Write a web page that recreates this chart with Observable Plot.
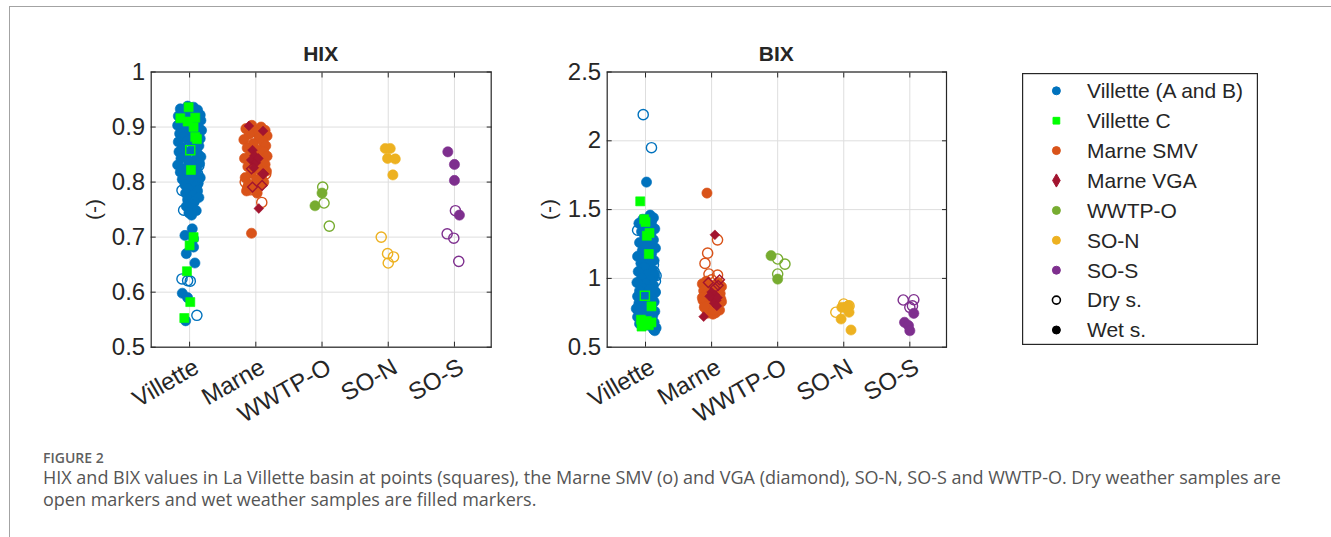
<!DOCTYPE html>
<html><head><meta charset="utf-8">
<script src="https://cdn.jsdelivr.net/npm/d3@7"></script>
<script src="https://cdn.jsdelivr.net/npm/@observablehq/plot@0.6"></script>
<style>
body{margin:0;background:#fff;}
#root{position:relative;width:1331px;height:537px;overflow:hidden;font-family:"Liberation Sans",Arial,Helvetica,sans-serif;color:#262626;}
.abs{position:absolute;}
.frameTop{left:9px;top:6px;right:0;height:0;border-top:1.5px solid #a3a3a3;}
.frameLeft{left:9px;top:6px;bottom:0;width:0;border-left:1.5px solid #a3a3a3;}
.title{font-weight:bold;font-size:21px;text-align:center;width:200px;line-height:21px;}
.ylab{font-size:21px;line-height:21px;width:60px;text-align:center;transform:rotate(-90deg);}
.figno{font-family:"Open Sans",sans-serif;font-size:14px;font-weight:600;color:#5f5f5f;}
.caption{width:1256px;font-family:"Open Sans",sans-serif;font-size:18px;line-height:22px;color:#555;}
</style></head><body><div id="root">
<div class="abs frameTop"></div><div class="abs frameLeft"></div>
</div>
<script>
// ---------- categories, ticks, series ----------
const categories = ["Villette", "Marne", "WWTP-O", "SO-N", "SO-S"];
const categoryPositions = [1, 2, 3, 4, 5];
const hixTicks = [0.5, 0.6, 0.7, 0.8, 0.9, 1];
const bixTicks = [0.5, 1, 1.5, 2, 2.5];
const seriesNames = ["Villette (A and B)", "Villette C", "Marne SMV", "Marne VGA", "WWTP-O", "SO-N", "SO-S"];
const seriesCategory = [1, 1, 2, 2, 3, 4, 5];
const stateNames = ["Dry s.", "Wet s."];

// each entry: [jitter offset from category, value]
// ---------- HIX ----------
const hixVilletteABWet = [[-0.03,0.938],[0.06,0.936],[-0.14,0.933],[0.12,0.931],[-0.08,0.928],[0.02,0.925],[0.16,0.922],[-0.17,0.920],[0.09,0.917],[-0.04,0.914],[0.17,0.912],[-0.12,0.909],[0.05,0.906],[-0.18,0.903],[0.13,0.900],[-0.06,0.897],[0.18,0.894],[0.01,0.891],[-0.15,0.888],[0.10,0.885],[-0.09,0.882],[0.16,0.879],[-0.02,0.876],[-0.17,0.873],[0.07,0.870],[0.14,0.866],[-0.11,0.862],[0.03,0.858],[-0.16,0.855],[0.12,0.852],[-0.05,0.849],[0.17,0.846],[-0.13,0.843],[0.08,0.840],[-0.01,0.837],[0.15,0.834],[-0.18,0.831],[0.04,0.828],[-0.09,0.825],[0.11,0.822],[-0.14,0.818],[0.06,0.815],[-0.04,0.812],[0.16,0.808],[-0.11,0.805],[0.02,0.802],[0.13,0.798],[-0.07,0.795],[0.09,0.792],[-0.02,0.788],[0.12,0.784],[-0.06,0.780],[0.05,0.776],[0.14,0.772],[-0.03,0.768],[0.07,0.764],[0.01,0.760],[-0.05,0.756],[0.04,0.752],[0.10,0.748],[-0.01,0.744],[0.03,0.740],[0.04,0.715],[-0.07,0.703],[0.06,0.697],[0.06,0.682],[-0.05,0.670],[0.08,0.653],[-0.11,0.598],[-0.03,0.590],[-0.06,0.548]];
const hixVilletteABDry = [[-0.115,0.785],[-0.09,0.749],[0.11,0.795],[0.14,0.830],[0.12,0.815],[-0.115,0.624],[-0.03,0.621],[0.01,0.620],[0.11,0.558]];
const hixVilletteCWet = [[-0.015,0.936],[-0.14,0.916],[-0.03,0.910],[0.085,0.917],[0.06,0.900],[0.085,0.882],[0.11,0.878],[0.02,0.822],[0.06,0.700],[0.0,0.685],[-0.04,0.638],[0.01,0.582],[-0.08,0.553]];
const hixVilletteCDry = [[0.01,0.858]];
const hixMarneSMVWet = [[-0.06,0.903],[0.08,0.900],[-0.15,0.897],[0.14,0.894],[0.01,0.890],[-0.10,0.887],[0.17,0.884],[0.05,0.880],[-0.18,0.877],[0.11,0.873],[-0.04,0.870],[0.15,0.866],[-0.13,0.862],[0.03,0.858],[0.12,0.855],[-0.08,0.851],[0.17,0.847],[-0.17,0.843],[0.07,0.840],[-0.02,0.836],[0.14,0.832],[-0.12,0.828],[0.04,0.824],[0.16,0.820],[-0.07,0.816],[0.09,0.812],[-0.16,0.808],[0.01,0.804],[0.12,0.800],[-0.11,0.796],[0.05,0.792],[-0.05,0.788],[-0.14,0.784],[0.02,0.780],[-0.065,0.707]];
const hixMarneSMVDry = [[0.09,0.763],[-0.12,0.790],[-0.16,0.800],[0.15,0.815],[-0.08,0.786]];
const hixMarneVGAWet = [[-0.105,0.902],[0.11,0.893],[-0.05,0.858],[-0.02,0.848],[-0.07,0.840],[0.0,0.835],[0.04,0.843],[-0.03,0.826],[0.12,0.815],[0.045,0.752]];
const hixMarneVGADry = [[-0.065,0.824],[0.11,0.815],[-0.05,0.791],[0.095,0.794]];
const hixWWTPWet = [[-0.106,0.757],[0.0,0.780]];
const hixWWTPDry = [[0.01,0.791],[0.03,0.762],[0.11,0.720]];
const hixSONWet = [[-0.045,0.861],[0.03,0.861],[-0.01,0.843],[0.106,0.842],[0.07,0.813]];
const hixSONDry = [[-0.106,0.700],[-0.01,0.670],[0.08,0.664],[0.0,0.653]];
const hixSOSWet = [[-0.10,0.855],[0.0,0.832],[0.0,0.803],[0.075,0.740]];
const hixSOSDry = [[0.015,0.748],[-0.11,0.706],[-0.01,0.698],[0.065,0.656]];

// ---------- BIX ----------
const bixVilletteABWet = [[0.015,1.70],[0.07,1.46],[0.12,1.44],[-0.04,1.43],[0.09,1.41],[-0.10,1.40],[0.02,1.38],[0.14,1.36],[-0.06,1.34],[0.08,1.32],[-0.01,1.30],[0.12,1.28],[-0.09,1.26],[0.04,1.24],[0.15,1.22],[-0.05,1.20],[0.09,1.18],[-0.12,1.16],[0.02,1.15],[0.13,1.13],[-0.07,1.11],[0.06,1.10],[-0.02,1.08],[0.11,1.06],[-0.11,1.05],[0.03,1.03],[0.14,1.02],[-0.06,1.00],[0.08,0.99],[-0.13,0.97],[0.01,0.96],[0.12,0.95],[-0.04,0.93],[0.07,0.92],[-0.09,0.91],[0.15,0.90],[0.0,0.88],[-0.12,0.87],[0.10,0.86],[-0.05,0.85],[0.05,0.84],[0.13,0.83],[-0.10,0.82],[0.02,0.81],[-0.03,0.80],[0.09,0.79],[-0.14,0.78],[0.06,0.77],[0.14,0.76],[-0.07,0.75],[0.03,0.74],[0.11,0.73],[-0.12,0.72],[0.0,0.71],[0.08,0.70],[-0.05,0.69],[0.13,0.68],[-0.09,0.67],[0.04,0.66],[0.11,0.65],[0.16,0.64],[0.12,0.63],[0.14,0.62]];
const bixVilletteABDry = [[-0.035,2.19],[0.09,1.95],[-0.12,1.35],[0.13,1.05],[0.16,1.02],[0.15,0.98],[0.14,0.90],[0.12,1.10]];
const bixVilletteCWet = [[-0.08,1.56],[-0.02,1.43],[0.0,1.41],[0.06,1.33],[0.02,1.31],[0.05,1.177],[0.09,0.797],[-0.07,0.70],[0.02,0.69],[0.09,0.68],[-0.03,0.67],[0.05,0.66],[-0.06,0.65]];
const bixVilletteCDry = [[-0.01,0.874]];
const bixMarneSMVWet = [[-0.07,1.62],[-0.08,0.98],[0.10,0.97],[-0.14,0.96],[0.04,0.95],[0.15,0.94],[-0.05,0.93],[0.09,0.92],[-0.12,0.91],[0.01,0.90],[0.13,0.89],[-0.09,0.88],[0.06,0.87],[-0.02,0.86],[0.14,0.85],[-0.13,0.84],[0.03,0.83],[0.11,0.82],[-0.07,0.81],[0.08,0.80],[-0.11,0.79],[0.0,0.78],[0.12,0.77],[-0.04,0.76],[0.06,0.75],[0.02,0.74],[0.0,0.92],[0.07,0.85],[-0.10,0.80],[0.15,0.83],[-0.06,0.87],[0.11,0.93],[-0.14,0.86],[0.03,0.77]];
const bixMarneSMVDry = [[0.09,1.28],[-0.06,1.184],[-0.10,1.109],[-0.04,1.032],[0.09,1.024],[0.0,0.99],[0.05,0.76],[-0.06,0.75]];
const bixMarneVGAWet = [[0.05,1.317],[-0.12,0.722],[0.0,0.90],[0.05,0.88],[-0.03,0.87],[0.02,0.85],[0.07,0.84],[0.09,0.86],[0.04,0.82],[0.08,0.80]];
const bixMarneVGADry = [[-0.05,0.97],[0.10,0.95],[0.05,0.93],[0.12,0.99]];
const bixWWTPWet = [[-0.10,1.165],[0.0,0.995]];
const bixWWTPDry = [[0.0,1.141],[0.11,1.104],[0.0,1.032]];
const bixSONWet = [[-0.03,0.790],[0.08,0.754],[-0.04,0.705],[0.11,0.625],[0.07,0.800]];
const bixSONDry = [[-0.12,0.754],[0.0,0.814],[0.08,0.800],[0.04,0.790]];
const bixSOSWet = [[0.06,0.746],[-0.08,0.681],[-0.02,0.657],[0.0,0.620]];
const bixSOSDry = [[-0.10,0.843],[0.06,0.845],[0.0,0.790],[0.04,0.800]];

// ---------- styles ----------
const seriesColor = ["#0072BD", "#00FF00", "#D95319", "#A2142F", "#77AC30", "#EDB120", "#7E2F8E"];
const seriesSymbol = ["circle", "square", "circle", "diamond2", "circle", "circle", "circle"];
const seriesR = [5.1, 5.1, 5.1, 4.4, 5.1, 5.1, 5.1];

const hixSets = [[hixVilletteABWet, hixVilletteABDry],[hixVilletteCWet, hixVilletteCDry],[hixMarneSMVWet, hixMarneSMVDry],[hixMarneVGAWet, hixMarneVGADry],[hixWWTPWet, hixWWTPDry],[hixSONWet, hixSONDry],[hixSOSWet, hixSOSDry]];
const bixSets = [[bixVilletteABWet, bixVilletteABDry],[bixVilletteCWet, bixVilletteCDry],[bixMarneSMVWet, bixMarneSMVDry],[bixMarneVGAWet, bixMarneVGADry],[bixWWTPWet, bixWWTPDry],[bixSONWet, bixSONDry],[bixSOSWet, bixSOSDry]];

function pointMarks(sets) {
  const marks = [];
  sets.forEach(([wet, dry], i) => {
    const c = seriesCategory[i];
    const toRows = arr => arr.map(([d, v]) => ({x: c + d, y: v}));
    marks.push(Plot.dot(toRows(dry), {x: "x", y: "y", symbol: seriesSymbol[i], r: seriesR[i], fill: "none", stroke: seriesColor[i], strokeWidth: 1.4}));
    marks.push(Plot.dot(toRows(wet), {x: "x", y: "y", symbol: seriesSymbol[i], r: seriesR[i], fill: seriesColor[i], stroke: seriesColor[i], strokeWidth: 0.6}));
  });
  return marks;
}

const fmt = d => String(+d.toFixed(2));
function panel(sets, yDomain, yTicks, width, marginLeft, marginRight) {
  return Plot.plot({
    width, height: 440, marginLeft, marginRight, marginTop: 71.5, marginBottom: 440 - 346.7,
    style: {fontFamily: "'Liberation Sans', Arial, Helvetica, sans-serif", fontSize: "24px", color: "#262626", background: "transparent", overflow: "visible"},
    x: {domain: [0.42, 5.555]},
    y: {domain: yDomain},
    marks: [
      Plot.gridX(categoryPositions, {stroke: "#dedede", strokeOpacity: 1, strokeWidth: 1}),
      Plot.gridY(yTicks, {stroke: "#dedede", strokeOpacity: 1, strokeWidth: 1}),
      ...pointMarks(sets),
      Plot.axisX(categoryPositions, {anchor: "bottom", tickSize: -5, fill: "none", label: null}),
      Plot.axisX(categoryPositions, {anchor: "top", tickSize: -5, fill: "none", label: null}),
      Plot.axisY(yTicks, {anchor: "left", tickSize: -5, fill: "none", label: null}),
      Plot.axisY(yTicks, {anchor: "right", tickSize: -5, fill: "none", label: null}),
      Plot.axisX(categoryPositions, {anchor: "bottom", tickSize: 0, tickPadding: 18, dx: 7, tickRotate: -30, tickFormat: d => categories[d - 1], label: null}),
      Plot.axisY(yTicks, {anchor: "left", tickSize: 0, tickPadding: 6, tickFormat: fmt, label: null}),
      Plot.frame({stroke: "#262626", strokeWidth: 1.2})
    ]
  });
}

const root = document.getElementById("root");
function place(el, left, top) {
  el.style.position = "absolute"; el.style.left = left + "px"; el.style.top = top + "px";
  root.appendChild(el);
}
place(panel(hixSets, [0.5, 1], hixTicks, 500, 150.7, 9.3), 0, 0);
place(panel(bixSets, [0.5, 2.5], bixTicks, 460, 106.7, 14), 500, 0);

function div(cls, text, left, top) {
  const d = document.createElement("div");
  d.className = "abs " + cls; d.textContent = text;
  d.style.left = left + "px"; d.style.top = top + "px";
  root.appendChild(d); return d;
}
div("title", "HIX", 320.7 - 100, 42.5);
div("title", "BIX", 776.3 - 100, 42.5);
div("ylab", "(-)", 93 - 30, 209 - 10.5);
div("ylab", "(-)", 548 - 30, 209 - 10.5);

// ---------- legend ----------
const legendLabels = [...seriesNames, ...stateNames];
const lw = 236, lh = 272;
const svg = d3.create("svg").attr("width", lw).attr("height", lh)
  .style("position", "absolute").style("left", "1022.3px").style("top", "73.3px");
svg.append("rect").attr("x", 0.6).attr("y", 0.6).attr("width", lw - 1.2).attr("height", lh - 1.2)
  .attr("fill", "white").attr("stroke", "#262626").attr("stroke-width", 1.2);
const legSym = {circle: d3.symbolCircle, square: d3.symbolSquare, diamond2: d3.symbolDiamond};
const legSize = {circle: 50, square: 45, diamond2: 50};
legendLabels.forEach((label, i) => {
  const y = 17.8 + i * 29.9;
  let sym, fill, stroke, sw = 1;
  if (i < seriesNames.length) {
    sym = seriesSymbol[i]; fill = seriesColor[i]; stroke = seriesColor[i];
  } else if (label === "Dry s.") {
    sym = "circle"; fill = "none"; stroke = "#000"; sw = 1.6;
  } else {
    sym = "circle"; fill = "#000"; stroke = "#000";
  }
  svg.append("path").attr("d", d3.symbol(legSym[sym], legSize[sym])())
    .attr("transform", `translate(34.4,${y})`).attr("fill", fill).attr("stroke", stroke).attr("stroke-width", sw);
  svg.append("text").attr("x", 65).attr("y", y).attr("dy", "0.35em")
    .attr("font-size", 21).attr("font-family", "'Liberation Sans', Arial, sans-serif").attr("fill", "#262626").text(label);
});
root.appendChild(svg.node());

// ---------- caption ----------
div("figno", "FIGURE 2", 43, 448);
div("caption", "HIX and BIX values in La Villette basin at points (squares), the Marne SMV (o) and VGA (diamond), SO-N, SO-S and WWTP-O. Dry weather samples are open markers and wet weather samples are filled markers.", 43, 466);
</script></body></html>
